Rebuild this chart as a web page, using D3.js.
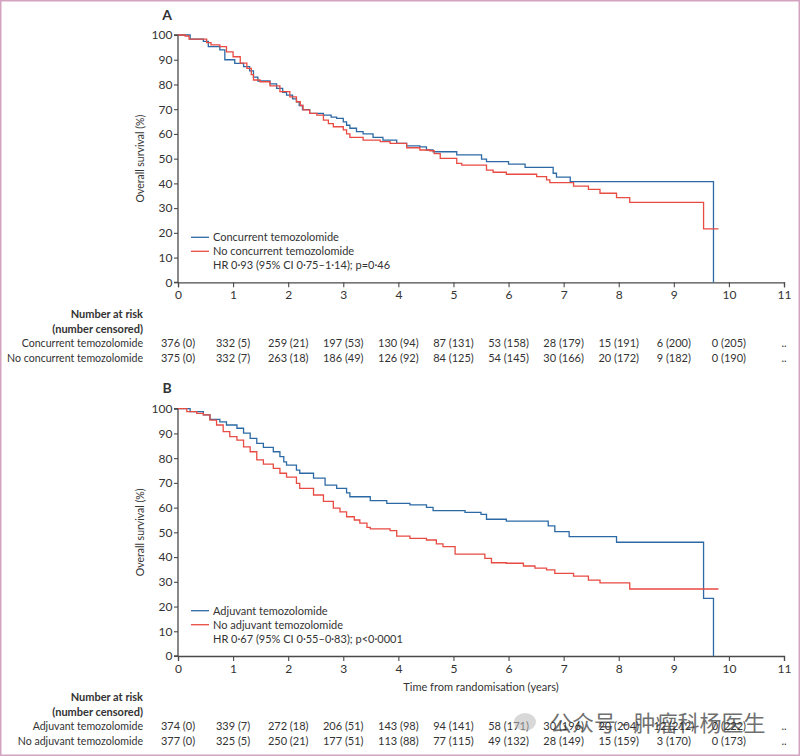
<!DOCTYPE html>
<html>
<head>
<meta charset="utf-8">
<script src="https://cdn.jsdelivr.net/npm/d3@7"></script>
<style>
  html, body { margin: 0; padding: 0; background: #fff; }
  svg { display: block; }
  text { font-family: Lato, "Open Sans", sans-serif; fill: #333; }
</style>
</head>
<body>
<svg id="chart" width="800" height="756"></svg>
<script>
// ---------- data ----------
const xTicks = [0,1,2,3,4,5,6,7,8,9,10,11];
const yTicks = [0,10,20,30,40,50,60,70,80,90,100];

// Panel A: [time (years), overall survival (%)] step points
const concurrentA = [[0,100],[0.22,98.3],[0.46,97.4],[0.55,95.3],[0.76,94],[0.85,90],[1.03,88.5],[1.19,87.2],[1.3,85.5],[1.37,83],[1.45,81.4],[1.67,80.2],[1.79,78.4],[1.9,76.8],[1.97,75.7],[2.08,74.2],[2.15,73],[2.2,71.5],[2.26,69.8],[2.39,68.3],[2.64,67.6],[2.78,66.8],[2.88,66.3],[3.0,64.9],[3.06,63.5],[3.12,62.3],[3.24,60.9],[3.36,60],[3.54,58.6],[3.72,57.5],[3.97,56.2],[4.15,55.2],[4.39,54.8],[4.51,53.5],[4.63,52.8],[5.06,51.5],[5.51,49.8],[5.6,48.8],[6.0,47.8],[6.3,46.5],[6.81,44.1],[6.87,42.5],[7.12,40.7],[9.72,0]];
const noConcurrentA = [[0,100],[0.13,99.6],[0.2,98.3],[0.52,96.9],[0.6,96],[0.76,95.3],[0.88,93.2],[1.0,91.2],[1.13,88.6],[1.25,86.5],[1.33,84],[1.37,81.8],[1.49,81.1],[1.67,79.4],[1.85,77.1],[2.03,75],[2.15,73],[2.22,71.5],[2.27,69.7],[2.39,68.3],[2.52,67.6],[2.64,65.6],[2.73,64.2],[2.82,62.9],[3.0,61.6],[3.06,60],[3.12,58.6],[3.36,57.5],[3.67,56.9],[3.85,56.2],[4.15,54.4],[4.39,53.5],[4.57,53.2],[4.65,52],[4.76,50.1],[5.06,48.1],[5.15,47.4],[5.6,45.4],[5.72,44.5],[5.96,43.7],[6.51,42.7],[6.69,41.4],[6.75,40.3],[7.18,38.9],[7.45,37.6],[7.66,36],[7.96,34.2],[8.2,32.3],[9.54,21.6],[9.81,21.6]];

// Panel B
const adjuvantB = [[0,100],[0.22,98.8],[0.46,97.5],[0.58,95.7],[0.76,94.7],[0.88,93.4],[1.07,92.1],[1.19,90.1],[1.31,88],[1.43,86],[1.55,84.4],[1.73,82.6],[1.85,80.6],[1.92,78.5],[1.97,77.2],[2.15,75.2],[2.21,73.9],[2.46,71.9],[2.67,69.1],[2.88,67.8],[3.06,66],[3.12,64.4],[3.49,62.8],[3.79,61.7],[4.21,61.1],[4.51,60.1],[4.63,58.8],[5.21,58.1],[5.5,57.3],[5.6,55.3],[5.96,54.5],[6.72,52.6],[6.84,50.3],[7.1,48.3],[7.96,46],[9.54,23.3],[9.72,0]];
const noAdjuvantB = [[0,100],[0.16,98.8],[0.34,98.1],[0.46,97.5],[0.58,95.4],[0.7,93.4],[0.82,90.7],[0.94,88.7],[1.07,87.3],[1.19,84.6],[1.31,82.6],[1.43,79.3],[1.55,77.6],[1.73,75.9],[1.85,73.9],[1.97,72.3],[2.15,69.8],[2.21,67.8],[2.46,65.1],[2.64,62.5],[2.82,59.8],[2.94,58.3],[3.06,56.3],[3.2,55],[3.3,53.7],[3.43,52],[3.49,51.4],[3.85,50.7],[3.97,48.5],[4.21,47.6],[4.51,46.9],[4.69,45.3],[4.81,44.2],[5.03,41.2],[5.57,39.5],[5.69,37.7],[5.96,37.5],[6.27,36.4],[6.48,35.5],[6.69,34.8],[6.84,33.4],[7.18,32.3],[7.45,30.7],[7.66,29.6],[8.2,27.1],[9.81,27.1]];

// Risk tables
const concurrentRisk   = ["376 (0)","332 (5)","259 (21)","197 (53)","130 (94)","87 (131)","53 (158)","28 (179)","15 (191)","6 (200)","0 (205)",".."];
const noConcurrentRisk = ["375 (0)","332 (7)","263 (18)","186 (49)","126 (92)","84 (125)","54 (145)","30 (166)","20 (172)","9 (182)","0 (190)",".."];
const adjuvantRisk     = ["374 (0)","339 (7)","272 (18)","206 (51)","143 (98)","94 (141)","58 (171)","30 (196)","20 (204)","12 (212)","0 (222)",".."];
const noAdjuvantRisk   = ["377 (0)","325 (5)","250 (21)","177 (51)","113 (88)","77 (115)","49 (132)","28 (149)","15 (159)","3 (170)","0 (173)",".."];

const panels = [
  { letter: "A", top: 35, bottom: 282.3, letterY: 20,
    series: [
      { name: "Concurrent temozolomide", data: concurrentA, color: "#2d6aa5", risk: concurrentRisk },
      { name: "No concurrent temozolomide", data: noConcurrentA, color: "#e84b42", risk: noConcurrentRisk }
    ],
    hr: "HR 0·93 (95% CI 0·75–1·14); p=0·46",
    legendY: 237.3, xTitle: null,
    riskY: [314, 329.5, 343.5, 358]
  },
  { letter: "B", top: 408.7, bottom: 656, letterY: 393,
    series: [
      { name: "Adjuvant temozolomide", data: adjuvantB, color: "#2d6aa5", risk: adjuvantRisk },
      { name: "No adjuvant temozolomide", data: noAdjuvantB, color: "#e84b42", risk: noAdjuvantRisk }
    ],
    hr: "HR 0·67 (95% CI 0·55–0·83); p<0·0001",
    legendY: 610.7, xTitle: "Time from randomisation (years)",
    riskY: [697, 712, 726.5, 741]
  }
];

// ---------- drawing ----------
const svg = d3.select("#chart");
const x = d3.scaleLinear().domain([0, 11]).range([178, 784]);
const axisColor = "#4a4a4a";
const fs = "11px";

panels.forEach(p => {
  const y = d3.scaleLinear().domain([0, 100]).range([p.bottom, p.top]);
  const g = svg.append("g");

  // y axis
  const ya = g.append("g").attr("transform", `translate(${x(0)},0)`)
    .call(d3.axisLeft(y).tickValues(yTicks).tickSize(4).tickPadding(1.5).tickFormat(d3.format("d")));
  // x axis
  const xa = g.append("g").attr("transform", `translate(0,${y(0)})`)
    .call(d3.axisBottom(x).tickValues(xTicks).tickSize(5).tickPadding(3).tickFormat(d3.format("d")));
  [ya, xa].forEach(a => {
    a.select(".domain").attr("stroke", axisColor).attr("stroke-width", 1.3);
    a.selectAll(".tick line").attr("stroke", axisColor).attr("stroke-width", 1.1);
    a.selectAll(".tick text").attr("fill", "#333").style("font-size", "12px")
      .style("font-family", "Lato, sans-serif");
  });
  ya.select(".domain").attr("d", `M-4,${y(100)}H0V${y(0)}H-4`);

  // panel letter
  g.append("text").attr("x", 167).attr("y", p.letterY).attr("text-anchor", "middle")
    .style("font-size", "14px").style("font-weight", "700").attr("fill", "#222").text(p.letter);

  // y title
  g.append("text")
    .attr("transform", `translate(144,${(p.top + p.bottom) / 2}) rotate(-90)`)
    .attr("text-anchor", "middle").style("font-size", "10.5px").text("Overall survival (%)");

  // curves
  const line = d3.line().x(d => x(d[0])).y(d => y(d[1])).curve(d3.curveStepAfter);
  p.series.forEach(s => {
    g.append("path").datum(s.data).attr("d", line)
      .attr("fill", "none").attr("stroke", s.color).attr("stroke-width", 1.3);
  });

  // legend
  p.series.forEach((s, i) => {
    const ly = p.legendY + i * 14;
    g.append("line").attr("x1", 191).attr("x2", 209).attr("y1", ly).attr("y2", ly)
      .attr("stroke", s.color).attr("stroke-width", 1.3);
    g.append("text").attr("x", 213).attr("y", ly + 3.8).style("font-size", fs).text(s.name);
  });
  g.append("text").attr("x", 213).attr("y", p.legendY + 28 + 3.8).style("font-size", fs).text(p.hr);

  // x title
  if (p.xTitle) {
    g.append("text").attr("x", 481).attr("y", 690.5).attr("text-anchor", "middle")
      .style("font-size", fs).text(p.xTitle);
  }

  // risk table
  g.append("text").attr("x", 143).attr("y", p.riskY[0] + 3.8).attr("text-anchor", "end")
    .style("font-size", fs).style("font-weight", "700").attr("fill", "#222").text("Number at risk");
  g.append("text").attr("x", 143).attr("y", p.riskY[1] + 3.8).attr("text-anchor", "end")
    .style("font-size", fs).style("font-weight", "700").attr("fill", "#222").text("(number censored)");
  p.series.forEach((s, i) => {
    const ry = p.riskY[2 + i] + 3.8;
    g.append("text").attr("x", 143).attr("y", ry).attr("text-anchor", "end")
      .style("font-size", "10.6px").text(s.name);
    g.selectAll(null).data(s.risk).enter().append("text")
      .attr("x", (d, j) => x(xTicks[j])).attr("y", ry).attr("text-anchor", "middle")
      .style("font-size", fs).text(d => d);
  });
});

// watermark
svg.append("text").attr("x", 550).attr("y", 731).style("font-size", "22px")
  .style("font-family", "'Noto Sans CJK SC', sans-serif").attr("fill", "#b0b0b0").attr("opacity", 0.7)
  .text("公众号 - 肿瘤科杨医生");
svg.append("ellipse").attr("cx", 525).attr("cy", 722).attr("rx", 11).attr("ry", 9)
  .attr("fill", "#b8b8b8").attr("opacity", 0.55);

// outer frame
svg.append("rect").attr("x", 0.75).attr("y", 0.75).attr("width", 798.5).attr("height", 754.5)
  .attr("fill", "none").attr("stroke", "#d3a3c0").attr("stroke-width", 1.5);
</script>
</body>
</html>
